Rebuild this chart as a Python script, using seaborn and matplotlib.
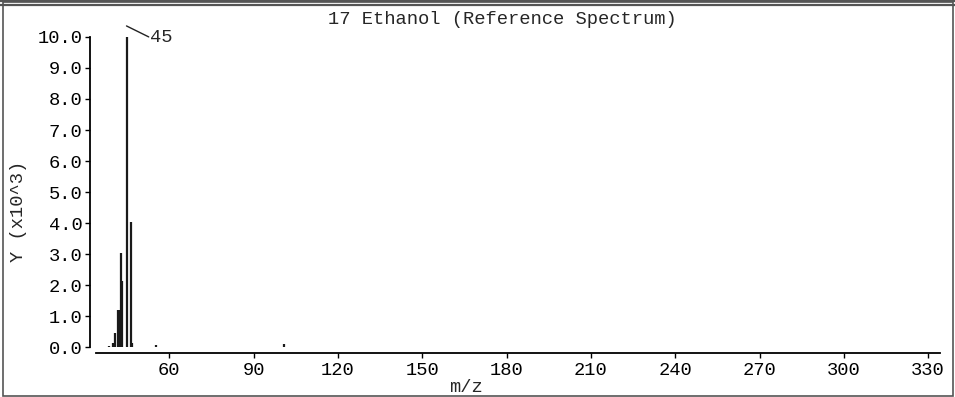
import matplotlib
matplotlib.use("Agg")
import matplotlib.pyplot as plt
import matplotlib.transforms as mtransforms
from matplotlib.patches import Rectangle
from matplotlib.lines import Line2D
import seaborn as sns

# Peak list: m/z and intensity (x10^3)
mz = [38.6, 39.8, 40.6, 41.9, 42.4, 42.8, 43.3, 45.0, 46.3, 46.8, 55.1, 100.9]
intensity = [0.05, 0.15, 0.46, 1.2, 1.2, 3.05, 2.12, 10.0, 4.05, 0.15, 0.08, 0.1]

x_ticks = [60, 90, 120, 150, 180, 210, 240, 270, 300, 330]
y_ticks = [0, 1, 2, 3, 4, 5, 6, 7, 8, 9, 10]
title = "17 Ethanol (Reference Spectrum)"
x_label = "m/z"
y_label = "Y (x10^3)"
base_peak_label = "45"

FS = 13.5

sns.set_style("ticks")
plt.rcParams["font.family"] = ["Liberation Mono", "DejaVu Sans Mono"]

W, H = 955, 397
fig = plt.figure(figsize=(W / 100, H / 100), dpi=100)
ax = fig.add_axes([96 / W, 49.7 / H, 844 / W, 319.7 / H])

ax.vlines(mz, 0, intensity, colors="#1a1a1a", linewidth=1.6)

ax.set_xlim(33.9, 334.2)
ax.set_ylim(0, 10.3)
ax.set_xticks(x_ticks)
ax.set_yticks(y_ticks)
ax.set_yticklabels([f"{v:.1f}" for v in y_ticks])
ax.tick_params(axis="both", direction="out", length=3.6, width=1.0,
               labelsize=FS, color="black", labelcolor="black")
ax.tick_params(axis="y", pad=2)
ax.tick_params(axis="x", pad=3)

sns.despine(ax=ax, offset=4.3)
for s in ("left", "bottom"):
    ax.spines[s].set_linewidth(1.3)
    ax.spines[s].set_color("black")
ax.spines["left"].set_bounds(0, 10)

# label for the base peak with a leader line
peak_x, peak_y = mz[intensity.index(max(intensity))], max(intensity)
line_start = mtransforms.offset_copy(ax.transData, fig=fig, x=-0.5, y=7.9, units="points")
line_end = mtransforms.offset_copy(ax.transData, fig=fig, x=15.5, y=0.0, units="points")
ax.annotate("", xy=(peak_x, peak_y), xycoords=line_end,
            xytext=(peak_x, peak_y), textcoords=line_start,
            arrowprops=dict(arrowstyle="-", color="#222222", lw=1.0,
                            shrinkA=0, shrinkB=0),
            annotation_clip=False)
ax.annotate(base_peak_label, xy=(peak_x, peak_y), xytext=(16.5, -0.5),
            textcoords="offset points", ha="left", va="center",
            fontsize=FS, annotation_clip=False)

fig.text(502 / W, 1 - 20 / H, title, ha="center", va="center", fontsize=FS)
fig.text(466 / W, 1 - 388 / H, x_label, ha="center", va="center", fontsize=FS)
fig.text(19 / W, 1 - 211 / H, y_label, ha="center", va="center",
         rotation=90, fontsize=FS)

# window frame
fig.patches.append(Rectangle((2.5 / W, 1.0 / H), 950.5 / W, 394 / H,
                             transform=fig.transFigure, fill=False,
                             edgecolor="#555555", linewidth=1.2))
fig.lines.append(Line2D([0, 1], [1 - 1.2 / H, 1 - 1.2 / H],
                        transform=fig.transFigure, color="#555555", linewidth=1.6))
fig.lines.append(Line2D([0, 1], [1 - 5.0 / H, 1 - 5.0 / H],
                        transform=fig.transFigure, color="#555555", linewidth=1.6))

fig.savefig("out.png", dpi=100)
